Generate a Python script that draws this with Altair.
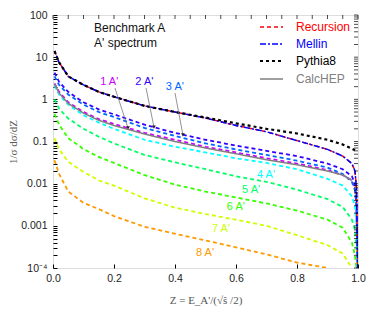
import altair as alt
import pandas as pd

# ---------------- data ----------------
z = [0.005, 0.02, 0.05, 0.1, 0.15, 0.2, 0.3, 0.4, 0.5, 0.6, 0.7, 0.8, 0.9, 0.95, 0.98, 0.99, 0.995, 0.999]

total = [14, 7.5, 3.5, 2.2, 1.5, 1.15, 0.7, 0.5, 0.36, 0.24, 0.17, 0.105, 0.065, 0.045, 0.03, 0.02, 0.008, 0.0001]
pythia_z = [0.005, 0.02, 0.05, 0.1, 0.15, 0.2, 0.3, 0.4, 0.5, 0.6, 0.7, 0.8, 0.9, 0.95, 0.98, 0.99]
pythia = [14, 7.5, 3.5, 2.2, 1.5, 1.15, 0.7, 0.5, 0.37, 0.27, 0.2, 0.155, 0.11, 0.085, 0.068, 0.062]

n1 = [2.4, 1.5, 0.85, 0.5, 0.34, 0.26, 0.16, 0.11, 0.075, 0.055, 0.04, 0.03, 0.021, 0.016, 0.012, 0.008, 0.003, 0.0001]
calchep = [2.3, 1.4, 0.8, 0.47, 0.32, 0.24, 0.15, 0.1, 0.07, 0.051, 0.037, 0.028, 0.02, 0.016, 0.012]
n2 = [4.3, 2.6, 1.5, 0.85, 0.58, 0.44, 0.25, 0.16, 0.11, 0.08, 0.06, 0.045, 0.03, 0.022, 0.015, 0.01, 0.004, 0.0001]
n3 = [3.5, 2.2, 1.3, 0.75, 0.5, 0.38, 0.21, 0.135, 0.09, 0.065, 0.048, 0.035, 0.024, 0.017, 0.011, 0.007, 0.003, 0.0001]
n4 = [2.1, 1.3, 0.75, 0.42, 0.28, 0.2, 0.11, 0.075, 0.055, 0.04, 0.031, 0.022, 0.013, 0.009, 0.005, 0.003, 0.001, 0.0001]
n5 = [1.0, 0.6, 0.35, 0.2, 0.13, 0.09, 0.048, 0.032, 0.022, 0.015, 0.011, 0.0072, 0.0043, 0.0028, 0.0014, 0.0008, 0.0003, 0.0001]
n6 = [0.45, 0.25, 0.12, 0.066, 0.043, 0.031, 0.016, 0.0095, 0.0065, 0.0047, 0.0034, 0.0023, 0.0014, 0.0009, 0.0004, 0.0002, 0.0001]
n7 = [0.12, 0.065, 0.033, 0.019, 0.012, 0.009, 0.0045, 0.0027, 0.0019, 0.0014, 0.001, 0.0006, 0.00035, 0.00022, 0.0001]
n8 = [0.036, 0.017, 0.0065, 0.0035, 0.0025, 0.0017, 0.00095, 0.00065, 0.00045, 0.00031, 0.00021, 0.000135, 0.0001]

n_labels = ["1 A'", "2 A'", "3 A'", "4 A'", "5 A'", "6 A'", "7 A'", "8 A'"]
n_colors = ["#cc00ff", "#3300ff", "#0066ff", "#00ffff", "#00ff66", "#33ff00", "#ccff00", "#ff9900"]

legend_names = ["Recursion", "Mellin", "Pythia8", "CalcHEP"]
legend_colors = ["#ff0000", "#0000ff", "#000000", "#808080"]
legend_dash = [[4, 3], [6, 2, 2, 2], [3, 3], [1, 0]]
legend_width = [1.5, 1.5, 2.2, 1.5]

# annotation label anchors (data units)
ann_text_z = [0.155, 0.27, 0.37, 0.669, 0.62, 0.57, 0.521, 0.469]
ann_text_v = [2.6, 2.6, 1.95, 0.016, 0.0071, 0.0028, 0.00084, 0.000227]
arrow_z0 = [0.203, 0.305, 0.4]
arrow_v0 = [1.86, 1.86, 1.41]
arrow_z1 = [0.246, 0.331, 0.426]
arrow_v1 = [0.21, 0.22, 0.143]

W, H = 305, 253
YMIN, YMAX = 1e-4, 100

xs = alt.Scale(domain=[0, 1], nice=False, zero=False)
ys = alt.Scale(type="log", domain=[YMIN, YMAX], nice=False, clamp=True)

rows = []
for lab, vals in zip(n_labels, [n1, n2, n3, n4, n5, n6, n7, n8]):
    for a, b in zip(z, vals):
        rows.append({"z": a, "v": max(b, YMIN), "s": lab})
df_n = pd.DataFrame(rows)

major = [1e-4, 1e-3, 1e-2, 0.1, 1, 10, 100]
minor_vals = []
for d in major[:-1]:
    for k in range(1, 10):
        minor_vals.append(d * k)
minor_vals.append(100)

label_expr = ("datum.value < 1.01e-4 ? '10\u207b\u2074' : "
              "(abs(log(datum.value)/LN10 - round(log(datum.value)/LN10)) < 0.01 ? "
              "format(datum.value, '~g') : '')")
xvals = [i / 20 for i in range(21)]

x_axis = alt.Axis(values=xvals,
                  labelExpr="abs(datum.value*5 - round(datum.value*5)) < 0.01 ? format(datum.value, '.1f') : ''",
                  offset=-4, tickSize=4, domain=False, grid=False, labelFlush=False,
                  labelPadding=5, labelFont="Liberation Sans", labelFontSize=10.5,
                  labelColor="#222", tickColor="#000", title="Z = E_A'/(\u221a\u015d /2)",
                  titleFont="Liberation Serif", titleFontSize=11, titleFontWeight="normal",
                  titleColor="#555", titlePadding=11, labelOverlap=False)
y_axis = alt.Axis(values=minor_vals, labelExpr=label_expr,
                  offset=-4, tickSize=4, domain=False, grid=False, labelFlush=False,
                  labelPadding=6, labelFont="Liberation Sans", labelFontSize=10.5,
                  labelColor="#222", tickColor="#000", title="1/\u03c3 d\u03c3/dZ",
                  titleFont="Liberation Serif", titleFontSize=11, titleFontWeight="normal",
                  titleColor="#555", titlePadding=2, labelOverlap=False)

n_lines = alt.Chart(df_n).mark_line(strokeWidth=1.8, strokeDash=[4, 3], clip=True).encode(
    x=alt.X("z:Q", scale=xs, axis=x_axis),
    y=alt.Y("v:Q", scale=ys, axis=y_axis),
    color=alt.Color("s:N", scale=alt.Scale(domain=n_labels, range=n_colors), legend=None),
    detail="s:N",
)

def xy(xf="z:Q", yf="v:Q"):
    return dict(x=alt.X(xf, scale=xs), y=alt.Y(yf, scale=ys))

df_cal = pd.DataFrame({"z": z[:len(calchep)], "v": calchep})
cal_line = alt.Chart(df_cal).mark_line(color="#808080", strokeWidth=1.5, clip=True).encode(**xy())

df_tot = pd.DataFrame({"z": z, "v": total})
rec_line = alt.Chart(df_tot).mark_line(color="#ff0000", strokeWidth=1.5, strokeDash=[4, 3], clip=True).encode(**xy())
mel_line = alt.Chart(df_tot).mark_line(color="#0000ff", strokeWidth=1.5, strokeDash=[6, 2, 2, 2],
                                       strokeDashOffset=3, clip=True).encode(**xy())
df_py = pd.DataFrame({"z": pythia_z, "v": pythia})
py_line = alt.Chart(df_py).mark_line(color="#000000", strokeWidth=2.2, strokeDash=[3, 3], clip=True).encode(**xy())

df_ann = pd.DataFrame({"t": n_labels, "z": ann_text_z, "v": ann_text_v})
ann_text = alt.Chart(df_ann).mark_text(align="left", baseline="middle", font="Liberation Sans", fontSize=11).encode(
    text="t:N",
    color=alt.Color("t:N", scale=alt.Scale(domain=n_labels, range=n_colors), legend=None), **xy())

df_arr = pd.DataFrame({"z": arrow_z0, "v": arrow_v0, "z2": arrow_z1, "v2": arrow_v1})
arrows = alt.Chart(df_arr).mark_rule(color="#777", strokeWidth=0.8).encode(
    x2="z2:Q", y2="v2:Q", **xy())
arrow_heads = alt.Chart(df_arr).mark_point(shape="triangle-down", filled=True, size=14, color="#222", opacity=1).encode(
    **xy("z2:Q", "v2:Q"))

# frame ticks on top and right (inward)
top_ticks = alt.Chart(pd.DataFrame({"z": xvals})).mark_tick(color="#000", size=4, thickness=1, orient="vertical").encode(
    x=alt.X("z:Q", scale=xs), y=alt.value(2))
right_ticks = alt.Chart(pd.DataFrame({"v": minor_vals})).mark_tick(color="#000", size=4, thickness=1, orient="horizontal").encode(
    y=alt.Y("v:Q", scale=ys), x=alt.value(W - 2))

# legend (top-right, inside plot)
leg_rows_y = [12, 29, 46, 64]
leg_parts = []
for nm, col, dsh, wd, yy in zip(legend_names, legend_colors, legend_dash, legend_width, leg_rows_y):
    d = pd.DataFrame({"name": [nm]})
    leg_parts.append(alt.Chart(d).mark_rule(color=col, strokeDash=dsh, strokeWidth=wd).encode(
        x=alt.value(207), x2=alt.value(230), y=alt.value(yy)))
    leg_parts.append(alt.Chart(d).mark_text(align="left", baseline="middle", color=col,
                                            font="Liberation Sans", fontSize=12).encode(
        x=alt.value(243), y=alt.value(yy), text="name:N"))

for txt, yy in zip(["Benchmark A", "A' spectrum"], [13, 28]):
    leg_parts.append(alt.Chart(pd.DataFrame({"t": [txt]})).mark_text(
        align="left", baseline="middle", font="Liberation Sans", fontSize=12, color="#111").encode(
        x=alt.value(41), y=alt.value(yy), text="t:N"))

chart = alt.layer(n_lines, cal_line, rec_line, mel_line, py_line, arrows, arrow_heads, ann_text,
                  top_ticks, right_ticks, *leg_parts).properties(
    width=W, height=H,
    padding={"left": 45, "top": 7, "right": 8, "bottom": 47},
    autosize=alt.AutoSizeParams(type="none"),
).configure_view(stroke="#000", strokeWidth=1.2).configure(background="white")

chart.save("out.html", embed_options={"renderer": "svg", "actions": False})
